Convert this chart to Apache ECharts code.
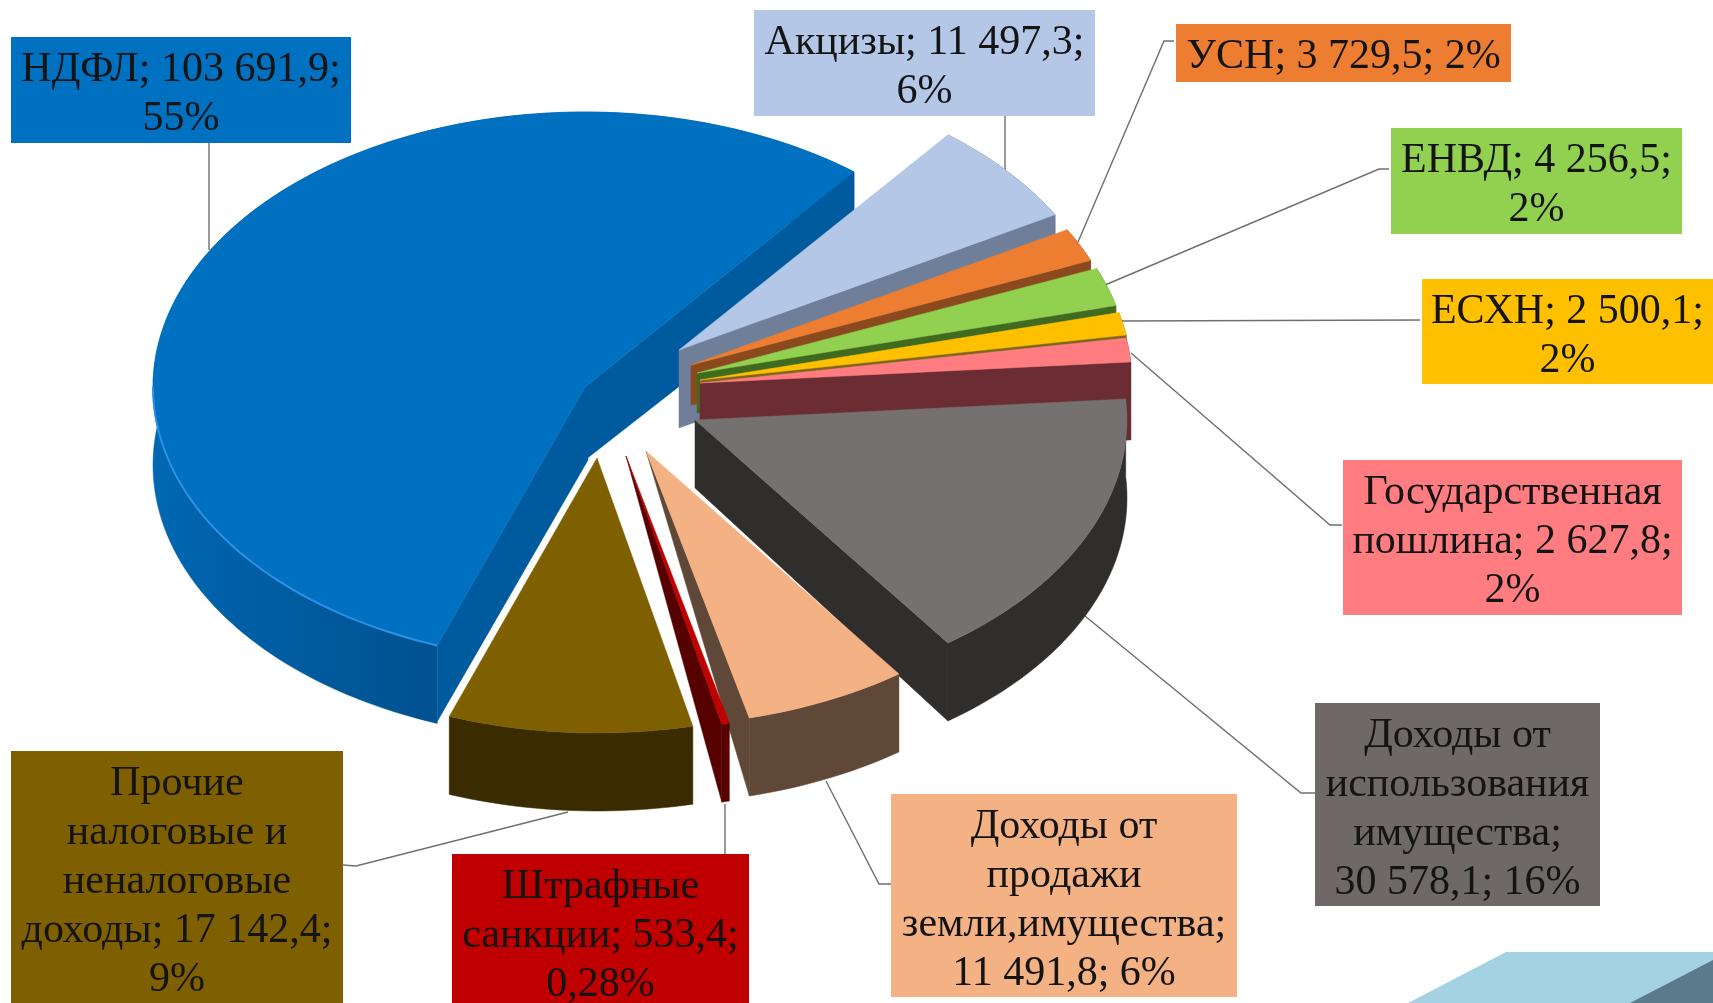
<!DOCTYPE html>
<html>
<head>
<meta charset="utf-8">
<style>html,body{margin:0;padding:0;background:#fff}#c{width:1713px;height:1003px}</style>
<script src="https://cdn.jsdelivr.net/npm/echarts@6/dist/echarts.min.js"></script>
</head>
<body>
<div id="c"></div>
<script>
// ---- data ----
const categories = ['НДФЛ','Акцизы','УСН','ЕНВД','ЕСХН','Государственная пошлина','Доходы от использования имущества','Доходы от продажи земли,имущества','Штрафные санкции','Прочие налоговые и неналоговые доходы'];
const values = [103691.9,11497.3,3729.5,4256.5,2500.1,2627.8,30578.1,11491.8,533.4,17142.4];
const labelTexts = [
  'НДФЛ; 103 691,9;\n55%',
  'Акцизы; 11 497,3;\n6%',
  'УСН; 3 729,5; 2%',
  'ЕНВД; 4 256,5;\n2%',
  'ЕСХН; 2 500,1;\n2%',
  'Государственная\nпошлина; 2 627,8;\n2%',
  'Доходы от\nиспользования\nимущества;\n30 578,1; 16%',
  'Доходы от\nпродажи\nземли,имущества;\n11 491,8; 6%',
  'Штрафные\nсанкции; 533,4;\n0,28%',
  'Прочие\nналоговые и\nненалоговые\nдоходы; 17 142,4;\n9%'
];

// ---- styling and layout ----
const topColors  = ['#0070C0','#B4C7E7','#ED7D31','#92D050','#FFC000','#FF7C80','#767171','#F4B183','#C00000','#7F6000'];
const wallColors = ['#005A9E','#6F7F99','#8A4A1E','#3F6A20','#7D6520','#6B2D33','#302D2D','#5F4837','#560000','#3A2C00'];
const boxColors  = ['#0070C0','#B4C7E7','#ED7D31','#92D050','#FFC000','#FF7C80','#6E6868','#F4B183','#C00000','#7F6000'];
const sliceCentres = [[585,387],[679,350],[691,365],[697,373],[700,380],[700,383],[695,420],[646,451],[626,456],[597,458]];
const endWallDepth = [73,78,40,40,40,72,68,0,0,null];
const labelBoxes = [[11,37,351,143],[754,10,1095,116],[1176,24,1511,82],[1391,128,1682,234],[1422,279,1713,384],[1343,460,1682,615],[1315,703,1600,906],[891,794,1237,997],[452,854,749,1010],[11,751,343,1010]];
const leaders = [
  [[209,143],[209,250]],
  [[1005,116],[1005,172]],
  [[1174,41],[1164,41],[1078,242]],
  [[1389,169],[1379,169],[1105,285]],
  [[1420,320],[1121,321]],
  [[1342,525],[1330,525],[1131,353]],
  [[1315,793],[1301,793],[1085,616]],
  [[891,884],[879,884],[826,781]],
  [[725,804],[725,854]],
  [[343,865],[356,866],[568,812]]
];
const RX = 432, RY = 275, DEPTH = 78, START_ANGLE = 250;
const FONT = '"Liberation Serif","Times New Roman",serif';
const total = values.reduce((a, b) => a + b, 0);
const sliceStart = [];
values.reduce((acc, v, i) => { sliceStart[i] = acc; return acc + v; }, 0);

function pt(c, deg, dy) {
  const a = deg * Math.PI / 180;
  return [c[0] + RX * Math.cos(a), c[1] - RY * Math.sin(a) + (dy || 0)];
}
function arc(c, a0, a1, dy) {
  const n = Math.max(4, Math.ceil(Math.abs(a1 - a0) / 1.5));
  const out = [];
  for (let i = 0; i <= n; i++) out.push(pt(c, a0 + (a1 - a0) * i / n, dy));
  return out;
}
function poly(points, fill, z2) {
  return { type: 'polygon', shape: { points }, style: { fill, stroke: fill, lineWidth: 0.5 }, z2: z2 || 0, silent: true };
}

function renderSlice(params, api) {
  const i = params.dataIndex;
  const v = api.value(0);
  const a0 = START_ANGLE - sliceStart[i] / total * 360;
  const a1 = a0 - v / total * 360;
  const c = sliceCentres[i];
  const children = [];

  // outer curved wall
  const topArc = arc(c, a0, a1, 0);
  const lowArc = arc(c, a0, a1, DEPTH).reverse();
  let wallFill = wallColors[i];
  if (i === 0) {
    wallFill = new echarts.graphic.LinearGradient(0, 0, 1, 0, [
      { offset: 0, color: '#0068B2' }, { offset: 0.12, color: '#005FA6' },
      { offset: 0.5, color: '#004D88' }, { offset: 1, color: '#00568F' }
    ]);
  }
  children.push(poly(topArc.concat(lowArc), wallFill));

  // cut faces
  if (i === 0) {
    const p = pt(c, a0, 0);
    children.push(poly([[c[0], c[1]], p, [p[0], p[1] + DEPTH - 2], [c[0] + 3, c[1] + endWallDepth[i]]], '#005A9E'));
  }
  if (endWallDepth[i] !== null) {
    const p = pt(c, a1, 0);
    children.push(poly([[c[0], c[1]], p, [p[0], p[1] + DEPTH], [c[0], c[1] + endWallDepth[i]]], wallColors[i]));
  }
  // top face
  children.push(poly([[c[0], c[1]]].concat(topArc), topColors[i]));
  if (i === 0) {
    children.push({
      type: 'polyline', shape: { points: arc(c, a0, 180, 0) }, silent: true,
      style: { fill: 'none', stroke: '#2E90E6', lineWidth: 2 }
    });
  }
  return { type: 'group', children };
}

function renderLeader(params) {
  return {
    type: 'polyline', silent: true,
    shape: { points: leaders[params.dataIndex] },
    style: { fill: 'none', stroke: '#6f6f6f', lineWidth: 1.4 }
  };
}

function renderLabel(params) {
  const i = params.dataIndex;
  const b = labelBoxes[i];
  return {
    type: 'group', children: [
      { type: 'rect', silent: true, shape: { x: b[0], y: b[1], width: b[2] - b[0], height: b[3] - b[1] }, style: { fill: boxColors[i] } },
      { type: 'text', silent: true, z2: 5, style: {
          x: (b[0] + b[2]) / 2, y: b[1] + 8, text: labelTexts[i], align: 'center', verticalAlign: 'top',
          fontFamily: FONT, fontSize: 42, lineHeight: 49, fill: '#141414'
      } }
    ]
  };
}

const chart = echarts.init(document.getElementById('c'), null, { renderer: 'canvas', width: 1713, height: 1003 });
chart.setOption({
  animation: false,
  backgroundColor: '#ffffff',
  graphic: [
    { type: 'polygon', z: 0, silent: true, shape: { points: [[1506,952],[1713,952],[1713,1003],[1408,1003]] }, style: { fill: '#A5D2E3' } },
    { type: 'polygon', z: 1, silent: true, shape: { points: [[1713,960],[1713,1003],[1630,1003]] }, style: { fill: '#5B7A8C' } },
    { type: 'text', z: 1, silent: true, style: { x: 1590, y: 1, text: 'руб.', verticalAlign: 'bottom', fontFamily: FONT, fontWeight: 'bold', fontSize: 32, fill: '#0B2A6F' } }
  ],
  series: [
    { type: 'custom', name: 'Линии выносок', coordinateSystem: 'none', z: 2, clip: false, renderItem: renderLeader, data: categories.map((n, i) => ({ name: n, value: [values[i]] })) },
    { type: 'custom', name: 'Доходы', coordinateSystem: 'none', z: 3, clip: false, renderItem: renderSlice, data: categories.map((n, i) => ({ name: n, value: [values[i]] })) },
    { type: 'custom', name: 'Подписи', coordinateSystem: 'none', z: 4, clip: false, renderItem: renderLabel, data: categories.map((n, i) => ({ name: n, value: [values[i]] })) }
  ]
});
</script>
</body>
</html>
